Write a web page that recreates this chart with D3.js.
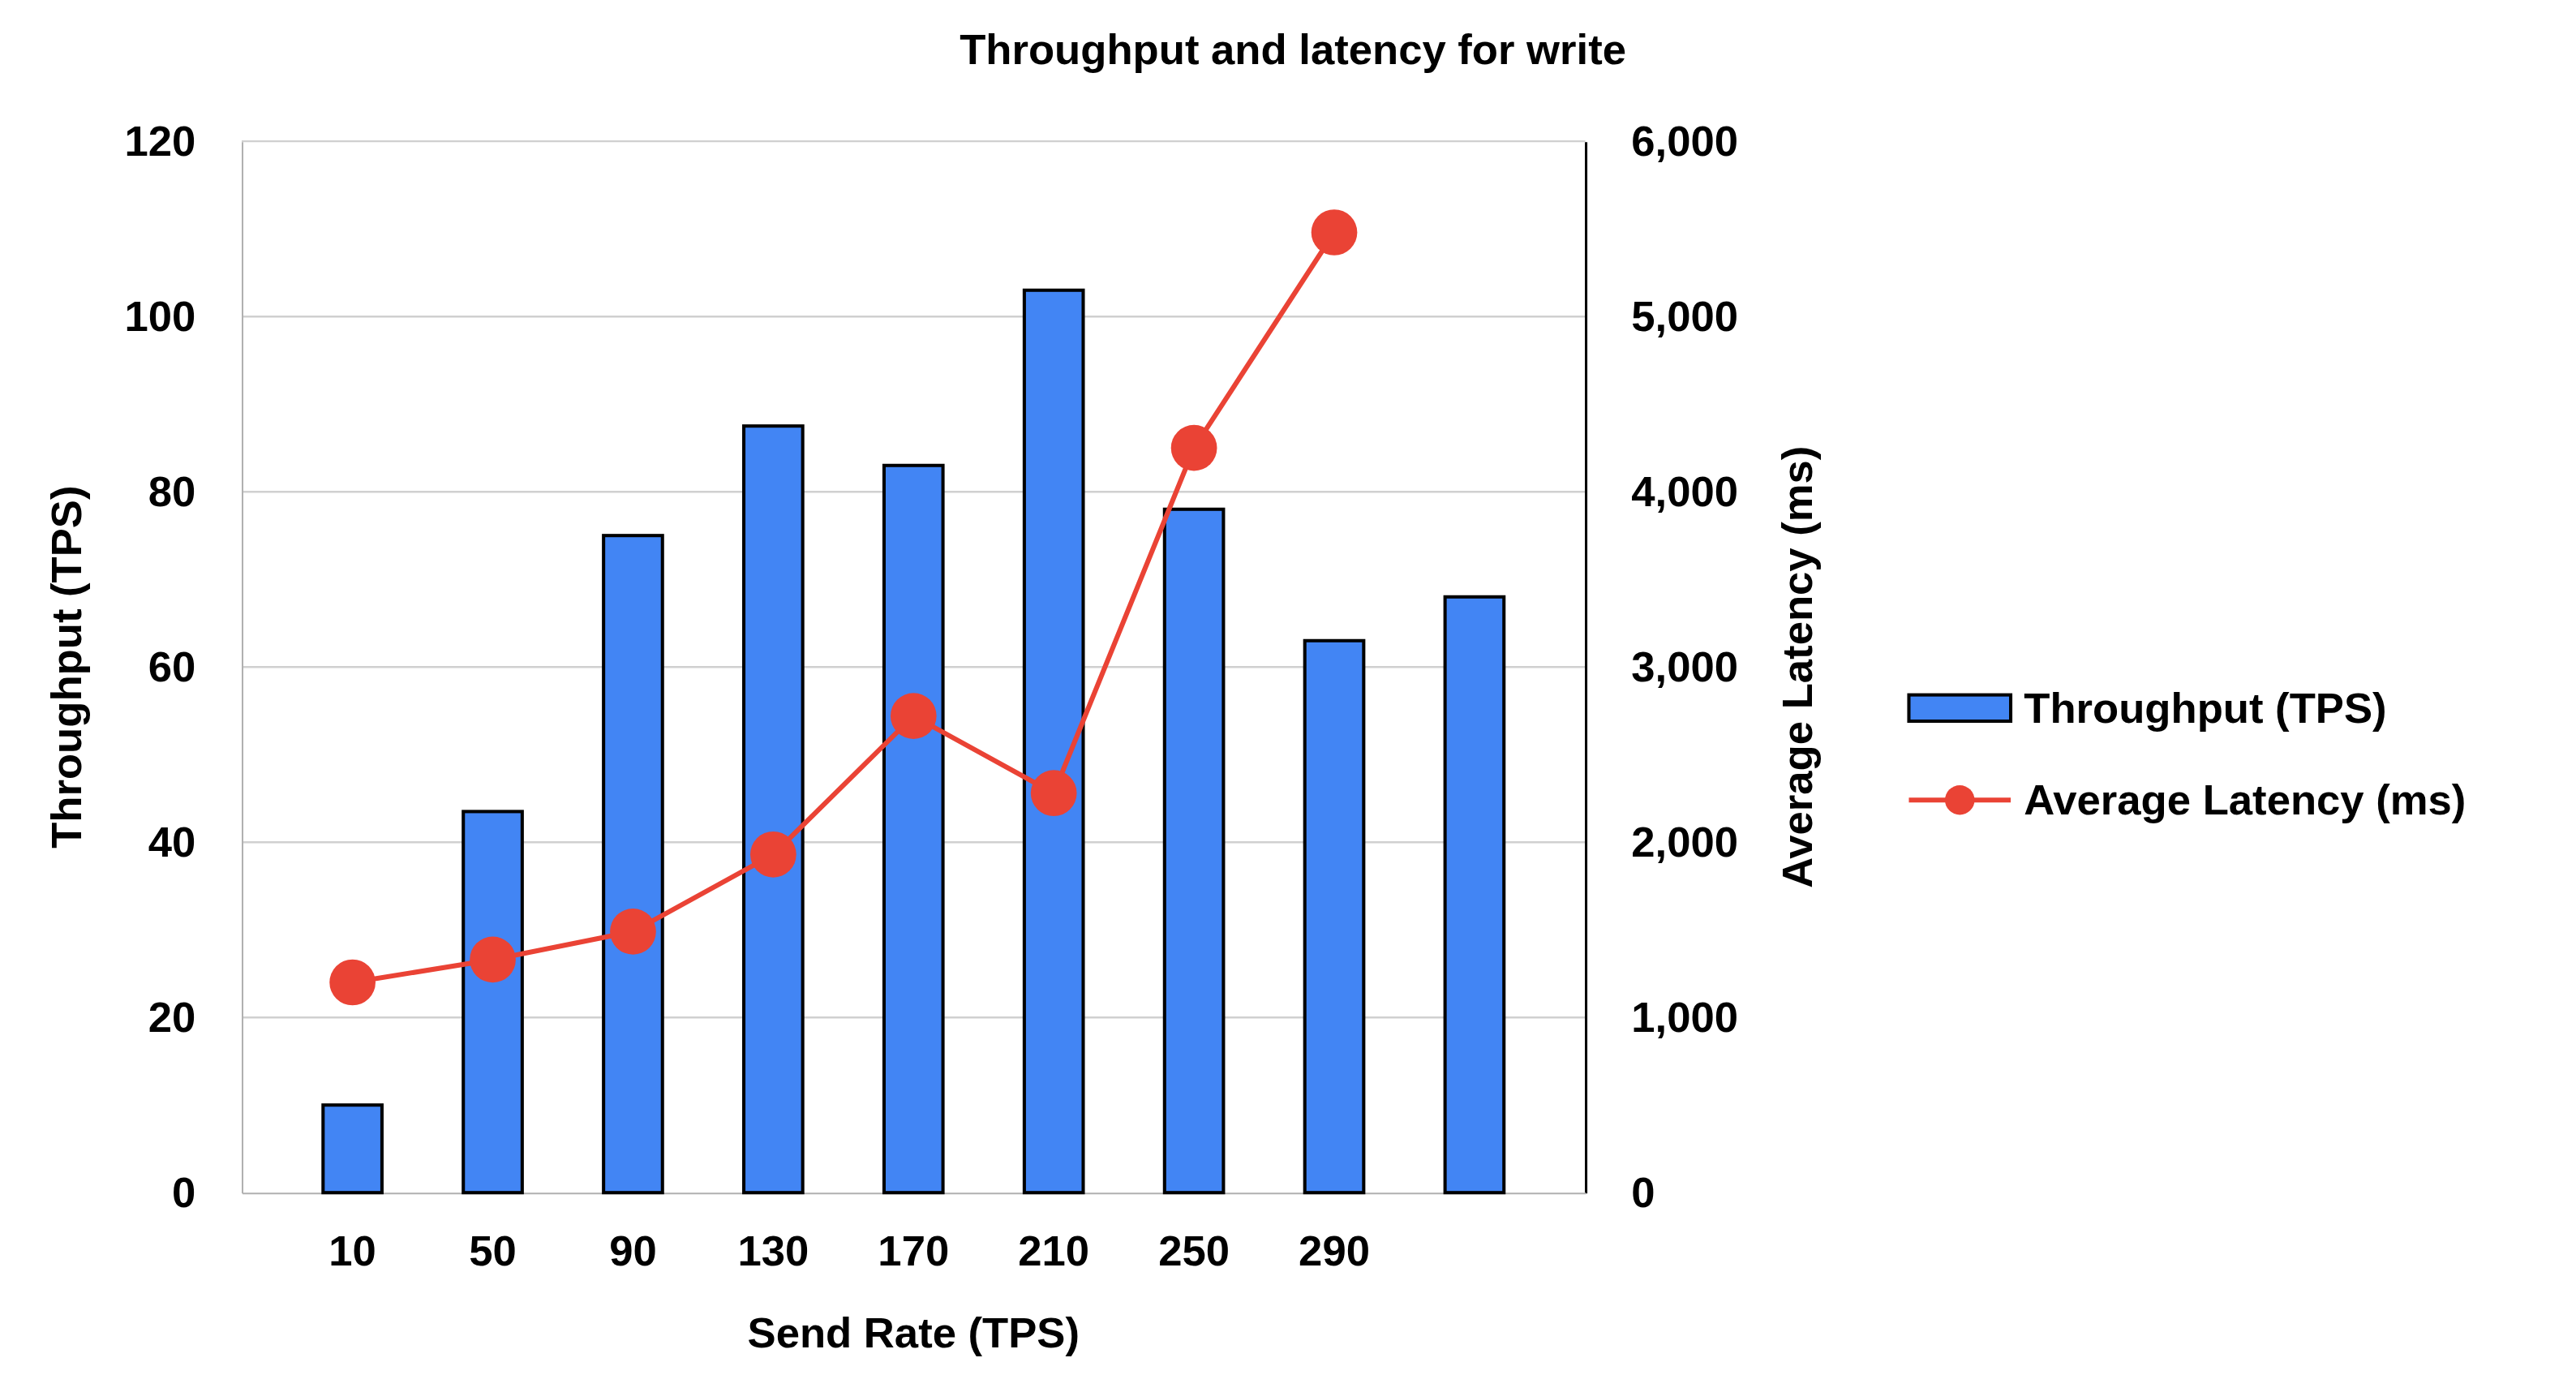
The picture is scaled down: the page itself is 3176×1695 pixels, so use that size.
<!DOCTYPE html>
<html>
<head>
<meta charset="utf-8">
<script src="https://d3js.org/d3.v7.min.js"></script>
<style>
  body { margin: 0; background: #fff; }
  text { font-family: "Liberation Sans", Arial, sans-serif; font-weight: bold; fill: #000; }
</style>
</head>
<body>
<div id="chart"></div>
<script>
// data
const categories = ["10", "50", "90", "130", "170", "210", "250", "290", ""];
const throughput = [10, 43.5, 75, 87.5, 83, 103, 78, 63, 68];
const latency = [1200, 1330, 1490, 1930, 2720, 2280, 4250, 5480];
const leftTicks = [0, 20, 40, 60, 80, 100, 120];
const rightTicks = [0, 1000, 2000, 3000, 4000, 5000, 6000];

// drawn in a 1568 x 837 frame, scaled up to the window
const W = 1568, H = 837;
const svg = d3.select("#chart").append("svg")
    .attr("width", 3176).attr("height", 1695)
    .attr("viewBox", `0 0 ${W} ${H}`);

const plotL = 147, plotR = 965, plotT = 86, plotB = 726;

const x = d3.scaleBand().domain(d3.range(categories.length)).range([plotL, plotR]).padding(0.58);
const yL = d3.scaleLinear().domain([0, 120]).range([plotB, plotT]);
const yR = d3.scaleLinear().domain([0, 6000]).range([plotB, plotT]);

// grid
svg.append("g").selectAll("line").data(leftTicks.slice(1)).join("line")
    .attr("x1", plotL).attr("x2", plotR)
    .attr("y1", d => yL(d)).attr("y2", d => yL(d))
    .attr("stroke", "#d0d0d0").attr("stroke-width", 1.2);

// left axis
const gL = svg.append("g").attr("transform", `translate(${plotL},0)`)
    .call(d3.axisLeft(yL).tickValues(leftTicks).tickSize(0).tickPadding(28));
gL.select(".domain").attr("stroke", "#b0b0b0");
gL.selectAll("text").attr("font-size", 26).attr("font-family", "Liberation Sans").attr("font-weight", "bold");

// right axis
const gR = svg.append("g").attr("transform", `translate(${plotR},0)`)
    .call(d3.axisRight(yR).tickValues(rightTicks).tickSize(0).tickPadding(28));
gR.select(".domain").attr("stroke", "#000").attr("stroke-width", 1.5);
gR.selectAll("text").attr("font-size", 26).attr("font-family", "Liberation Sans").attr("font-weight", "bold");

// bottom axis
const gB = svg.append("g").attr("transform", `translate(0,${plotB})`)
    .call(d3.axisBottom(x).tickFormat(i => categories[i]).tickSize(0).tickPadding(26));
gB.select(".domain").attr("stroke", "#b0b0b0");
gB.selectAll("text").attr("font-size", 26).attr("font-family", "Liberation Sans").attr("font-weight", "bold");

// bars
svg.append("g").selectAll("rect").data(throughput).join("rect")
    .attr("x", (d, i) => x(i)).attr("width", x.bandwidth())
    .attr("y", d => yL(d)).attr("height", d => plotB - yL(d))
    .attr("fill", "#4285f4").attr("stroke", "#000").attr("stroke-width", 2);

// latency line
const cx = i => x(i) + x.bandwidth() / 2;
svg.append("path").datum(latency)
    .attr("d", d3.line().x((d, i) => cx(i)).y(d => yR(d)))
    .attr("fill", "none").attr("stroke", "#ea4335").attr("stroke-width", 3);
svg.append("g").selectAll("circle").data(latency).join("circle")
    .attr("cx", (d, i) => cx(i)).attr("cy", d => yR(d)).attr("r", 14)
    .attr("fill", "#ea4335");

// titles
svg.append("text").attr("x", 787).attr("y", 39).attr("text-anchor", "middle")
    .attr("font-size", 26).text("Throughput and latency for write");
svg.append("text").attr("x", 556).attr("y", 820).attr("text-anchor", "middle")
    .attr("font-size", 26).text("Send Rate (TPS)");
svg.append("text").attr("transform", `translate(49,406) rotate(-90)`).attr("text-anchor", "middle")
    .attr("font-size", 26).text("Throughput (TPS)");
svg.append("text").attr("transform", `translate(1103,406) rotate(-90)`).attr("text-anchor", "middle")
    .attr("font-size", 26).text("Average Latency (ms)");

// legend
const lg = svg.append("g");
lg.append("rect").attr("x", 1162).attr("y", 423).attr("width", 62).attr("height", 16)
    .attr("fill", "#4285f4").attr("stroke", "#000").attr("stroke-width", 2);
lg.append("text").attr("x", 1232).attr("y", 440).attr("font-size", 26).text("Throughput (TPS)");
lg.append("line").attr("x1", 1162).attr("x2", 1224).attr("y1", 487).attr("y2", 487)
    .attr("stroke", "#ea4335").attr("stroke-width", 3);
lg.append("circle").attr("cx", 1193).attr("cy", 487).attr("r", 9).attr("fill", "#ea4335");
lg.append("text").attr("x", 1232).attr("y", 496).attr("font-size", 26).text("Average Latency (ms)");
</script>
</body>
</html>
